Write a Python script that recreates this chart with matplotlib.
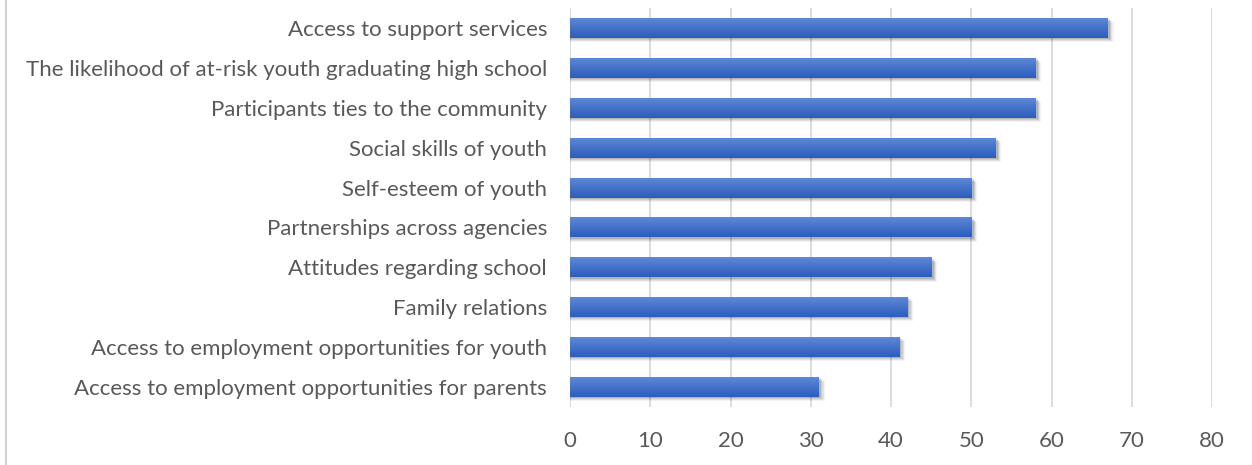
import numpy as np
import matplotlib.pyplot as plt
from matplotlib.lines import Line2D
from matplotlib.patches import Rectangle

categories = [
    "Access to support services",
    "The likelihood of at-risk youth graduating high school",
    "Participants ties to the community",
    "Social skills of youth",
    "Self-esteem of youth",
    "Partnerships across agencies",
    "Attitudes regarding school",
    "Family relations",
    "Access to employment opportunities for youth",
    "Access to employment opportunities for parents",
]
values = [67, 58, 58, 53, 50, 50, 45, 42, 41, 31]
xticks = [0, 10, 20, 30, 40, 50, 60, 70, 80]

plt.rcParams['font.family'] = ['Lato', 'DejaVu Sans']

fig = plt.figure(figsize=(12.52, 4.65), dpi=100)
ax = fig.add_axes([570 / 1252, 1 - 407 / 465, 642 / 1252, 399 / 465])

y = np.arange(len(categories))
bar_h = 0.5

# vertical gradient used to fill each bar
grad = np.linspace(0, 1, 64).reshape(-1, 1)
top_col = np.array([0x5d, 0x88, 0xd4]) / 255
bot_col = np.array([0x2c, 0x5d, 0xbf]) / 255
img = top_col + (bot_col - top_col) * grad[..., None]
img = img.reshape(64, 1, 3)

for yi, v in zip(y, values):
    # soft drop shadow
    for k, a in enumerate([0.12, 0.09, 0.07, 0.05]):
        off = 0.03 + k * 0.025
        sh = Rectangle((0, yi - bar_h / 2 + off), v + 0.3 + k * 0.15, bar_h,
                       facecolor='black', alpha=a, edgecolor='none', zorder=2)
        ax.add_patch(sh)
    bar = ax.barh(yi, v, height=bar_h, color=bot_col, zorder=3)[0]
    im = ax.imshow(img, extent=(0, v, yi + bar_h / 2, yi - bar_h / 2),
                   aspect='auto', zorder=4, interpolation='bilinear')
    im.set_clip_path(bar)

ax.set_xlim(0, 80)
ax.set_ylim(len(categories) - 0.5, -0.5)
ax.set_xticks(xticks)
ax.set_yticks(y)
ax.set_yticklabels(categories)
ax.grid(axis='x', color='#d9d9d9', linewidth=1.3, zorder=0)
ax.set_axisbelow(True)
for s in ax.spines.values():
    s.set_visible(False)
ax.tick_params(axis='both', length=0, labelsize=16, colors='#595959')
ax.tick_params(axis='y', pad=16.5)
ax.tick_params(axis='x', pad=17)

# chart area border on the left edge
fig.add_artist(Line2D([6 / 1252, 6 / 1252], [0, 1], color='#d0d0d0',
                      linewidth=1.5, transform=fig.transFigure))

fig.savefig('out.png', dpi=100)
